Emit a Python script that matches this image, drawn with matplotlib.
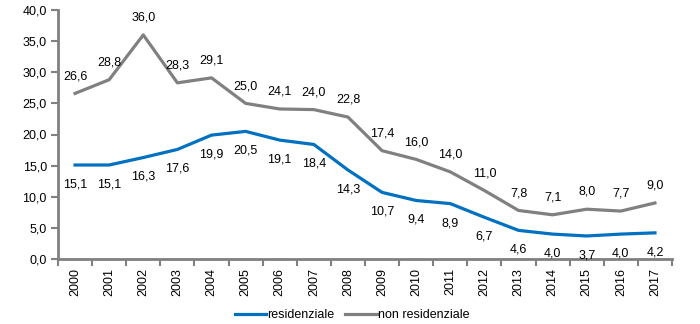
import matplotlib.pyplot as plt
import numpy as np

plt.rcParams['font.family'] = ['Liberation Sans', 'DejaVu Sans']

years = [str(y) for y in range(2000, 2018)]
residenziale = [15.1, 15.1, 16.3, 17.6, 19.9, 20.5, 19.1, 18.4, 14.3, 10.7,
                9.4, 8.9, 6.7, 4.6, 4.0, 3.7, 4.0, 4.2]
non_residenziale = [26.6, 28.8, 36.0, 28.3, 29.1, 25.0, 24.1, 24.0, 22.8, 17.4,
                    16.0, 14.0, 11.0, 7.8, 7.1, 8.0, 7.7, 9.0]

blue = '#0070C0'
grey = '#808080'
fs = 9


def fmt(v):
    return f"{v:.1f}".replace('.', ',')


fig = plt.figure(figsize=(7, 3.24), dpi=100)
ax = fig.add_axes([58 / 700, 1 - 259 / 324, (672 - 58) / 700, (259 - 10) / 324])

x = np.arange(len(years))
ax.plot(x, residenziale, color=blue, lw=2.3, label='residenziale')
ax.plot(x, non_residenziale, color=grey, lw=2.3, label='non residenziale')

for xi, v in zip(x, residenziale):
    ax.annotate(fmt(v), (xi, v), xytext=(0, -14), textcoords='offset points',
                ha='center', va='center', fontsize=fs)
for xi, v in zip(x, non_residenziale):
    ax.annotate(fmt(v), (xi, v), xytext=(0, 12.5), textcoords='offset points',
                ha='center', va='center', fontsize=fs)

ax.set_xlim(-0.5, len(years) - 0.5)
ax.set_ylim(0, 40)
ax.set_yticks(np.arange(0, 41, 5))
ax.set_yticklabels([fmt(v) for v in np.arange(0, 41, 5)], fontsize=fs)
ax.set_xticks(x)
ax.set_xticklabels(years, rotation=90, fontsize=fs)
ax.tick_params(axis='x', length=0, pad=6.5)
ax.set_xticks(np.arange(-0.5, len(years), 1), minor=True)
ax.tick_params(axis='x', which='minor', length=5, width=1.5, color=grey)
ax.tick_params(axis='y', length=5, width=1.5, color=grey, pad=3)

for s in ['top', 'right']:
    ax.spines[s].set_visible(False)
for s in ['left', 'bottom']:
    ax.spines[s].set_color(grey)
    ax.spines[s].set_linewidth(2)

fig.legend(loc='center', bbox_to_anchor=(352 / 700, 1 - 315 / 324), ncol=2, frameon=False,
           fontsize=fs, handlelength=2.5, handletextpad=0.1, columnspacing=0.9,
           borderpad=0)

fig.savefig('out.png', dpi=100)
